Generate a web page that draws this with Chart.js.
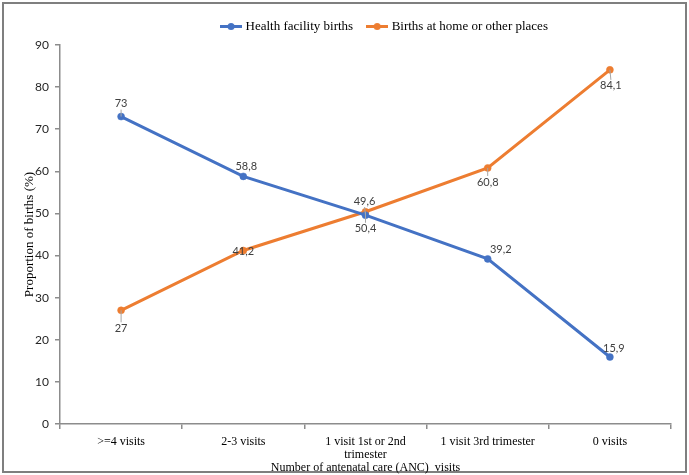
<!DOCTYPE html>
<html>
<head>
<meta charset="utf-8">
<script src="https://cdn.jsdelivr.net/npm/chart.js@4/dist/chart.umd.min.js"></script>
<style>
  html, body { margin: 0; padding: 0; background: #ffffff; }
  #wrap { position: relative; width: 689px; height: 475px; }
</style>
</head>
<body>
<div id="wrap"><canvas id="c" width="689" height="475"></canvas></div>
<script>
// ---- Data ----
const categories = [">=4 visits", "2-3 visits", ["1 visit 1st or 2nd", "trimester"], "1 visit 3rd trimester", "0 visits"];
const healthFacilityBirths = [73, 58.8, 49.6, 39.2, 15.9];
const homeOrOtherBirths = [27, 41.2, 50.4, 60.8, 84.1];
const seriesNames = ["Health facility births", "Births at home or other places"];
const yTicks = [0, 10, 20, 30, 40, 50, 60, 70, 80, 90];

// ---- Styling ----
const BLUE = "#4472C4";
const ORANGE = "#ED7D31";
const AXIS = "#8c8c8c";
// label offsets (dx, dy in px from the point) and whether a leader line is drawn
const labelPlacement = [
  [[0, -13, true], [3, -10, false], [-1, -14, true], [13, -9, false], [4, -9, false]],
  [[0, 18, true], [0, 1, false], [0, 17, true], [0, 14, true], [1, 16, true]]
];

function legendMarker(color) {
  const cv = document.createElement("canvas");
  cv.width = 22; cv.height = 9;
  const g = cv.getContext("2d");
  g.strokeStyle = color; g.lineWidth = 3;
  g.beginPath(); g.moveTo(0, 4.5); g.lineTo(22, 4.5); g.stroke();
  g.fillStyle = color;
  g.beginPath(); g.arc(11, 4.5, 3.5, 0, Math.PI * 2); g.fill();
  return cv;
}

const borderPlugin = {
  id: "outerBorder",
  beforeDraw(chart) {
    const ctx = chart.ctx;
    ctx.save();
    ctx.fillStyle = "#ffffff";
    ctx.fillRect(0, 0, chart.width, chart.height);
    ctx.strokeStyle = "#7f7f7f";
    ctx.lineWidth = 2;
    ctx.strokeRect(3, 3, 683, 469);
    ctx.restore();
  }
};

const legendShift = {
  id: "legendShift",
  afterLayout(chart) {
    if (chart.legend) {
      chart.legend.left += 48; chart.legend.right += 48;
      chart.legend.top -= 2; chart.legend.bottom -= 2;
    }
  }
};

const valueLabels = {
  id: "valueLabels",
  afterDatasetsDraw(chart) {
    const ctx = chart.ctx;
    ctx.save();
    ctx.font = "11px Lato, 'Open Sans', sans-serif";
    ctx.fillStyle = "#404040";
    ctx.textAlign = "center";
    ctx.textBaseline = "middle";
    chart.data.datasets.forEach((ds, di) => {
      const meta = chart.getDatasetMeta(di);
      meta.data.forEach((pt, i) => {
        const [dx, dy, leader] = labelPlacement[di][i];
        const lx = pt.x + dx, ly = pt.y + dy;
        if (leader) {
          ctx.strokeStyle = "#a6a6a6";
          ctx.lineWidth = 1;
          ctx.beginPath();
          const dir = Math.sign(dy);
          ctx.moveTo(pt.x, pt.y);
          ctx.lineTo(lx, ly - dir * 6);
          ctx.stroke();
        }
        ctx.fillText(String(ds.data[i]).replace(".", ","), lx, ly);
      });
    });
    ctx.restore();
  }
};

new Chart(document.getElementById("c"), {
  type: "line",
  data: {
    labels: categories,
    datasets: [
      {
        label: seriesNames[0],
        data: healthFacilityBirths,
        borderColor: BLUE,
        backgroundColor: BLUE,
        pointBackgroundColor: BLUE,
        pointBorderColor: BLUE,
        borderWidth: 3,
        pointRadius: 3.5,
        pointBorderWidth: 0.5,
        tension: 0
      },
      {
        label: seriesNames[1],
        data: homeOrOtherBirths,
        borderColor: ORANGE,
        backgroundColor: ORANGE,
        pointBackgroundColor: ORANGE,
        pointBorderColor: ORANGE,
        borderWidth: 3,
        pointRadius: 3.5,
        pointBorderWidth: 0.5,
        tension: 0
      }
    ]
  },
  options: {
    responsive: false,
    animation: false,
    devicePixelRatio: 1,
    layout: { padding: { left: 4, right: 18, top: 2, bottom: 1 } },
    plugins: {
      tooltip: { enabled: false },
      legend: {
        position: "top",
        labels: {
          usePointStyle: true,
          pointStyleWidth: 16,
          padding: 16,
          color: "#000000",
          font: { family: "'Liberation Serif', 'Times New Roman', serif", size: 13 },
          generateLabels(chart) {
            return chart.data.datasets.map((ds, i) => ({
              text: ds.label,
              pointStyle: legendMarker(ds.borderColor),
              fillStyle: ds.borderColor,
              strokeStyle: ds.borderColor,
              lineWidth: 0,
              hidden: false,
              datasetIndex: i,
              fontColor: "#000000"
            }));
          }
        }
      }
    },
    scales: {
      x: {
        offset: true,
        border: { display: true, color: AXIS, width: 1.5 },
        grid: { offset: true, drawOnChartArea: false, drawTicks: true, tickLength: 5, color: AXIS, lineWidth: 1.5 },
        ticks: {
          color: "#000000",
          padding: 6,
          maxRotation: 0,
          autoSkip: false,
          font: { family: "'Liberation Serif', 'Times New Roman', serif", size: 12, lineHeight: 1.1 }
        },
        title: {
          display: true,
          text: "Number of antenatal care (ANC)  visits",
          color: "#000000",
          padding: { top: 0, bottom: 0 },
          font: { family: "'Liberation Serif', 'Times New Roman', serif", size: 12, lineHeight: 1.1 }
        },
        afterFit(scale) { scale.height = 50; }
      },
      y: {
        min: 0,
        max: 90,
        afterBuildTicks(scale) { scale.ticks = yTicks.map(v => ({ value: v })); },
        border: { display: true, color: AXIS, width: 1.5 },
        grid: { drawOnChartArea: false, drawTicks: true, tickLength: 5, color: AXIS, lineWidth: 1.5 },
        ticks: {
          color: "#262626",
          padding: 6,
          font: { family: "Lato, 'Open Sans', sans-serif", size: 12 }
        },
        title: {
          display: true,
          text: "Proportion of births (%)",
          color: "#000000",
          padding: { top: 18, bottom: 0 },
          font: { family: "'Liberation Serif', 'Times New Roman', serif", size: 13 }
        },
        afterFit(scale) { scale.width = 56; scale.paddingTop = 45; }
      }
    }
  },
  plugins: [borderPlugin, legendShift, valueLabels]
});
</script>
</body>
</html>
